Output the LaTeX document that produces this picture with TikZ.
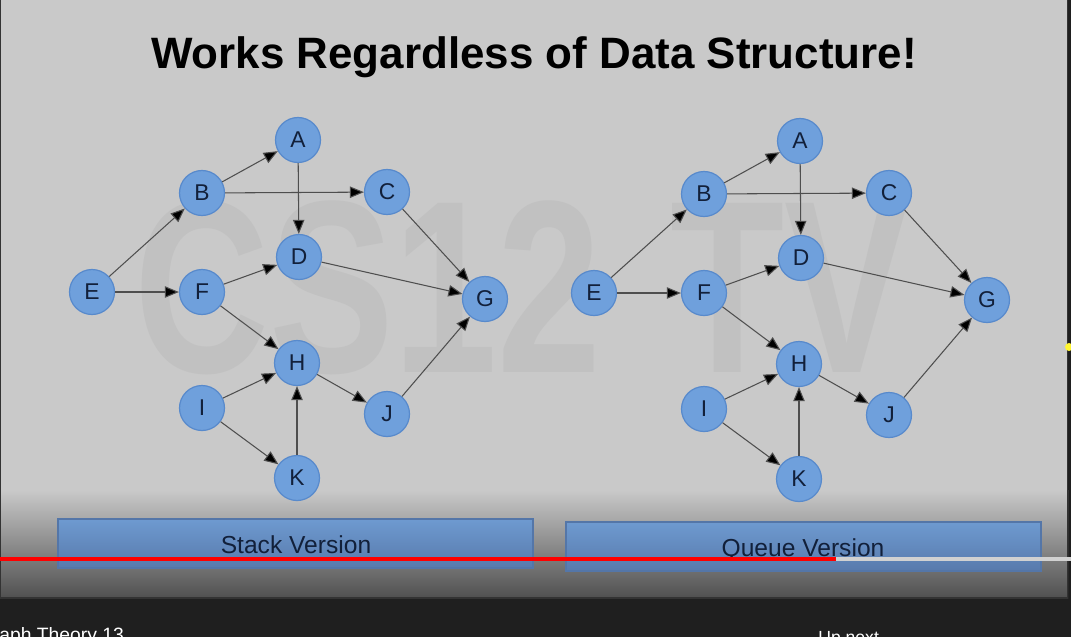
\documentclass[tikz,border=0pt]{standalone}
\usepackage{fontspec}
\setmainfont{Liberation Sans}
\usepackage{tikz}
\usetikzlibrary{arrows.meta,positioning}

\definecolor{slidegray}{RGB}{201,201,201}
\definecolor{markgray}{RGB}{193,193,193}
\definecolor{vfill}{RGB}{111,160,220}
\definecolor{vline}{RGB}{88,138,204}
\definecolor{vtext}{RGB}{18,32,58}
\definecolor{edgegray}{RGB}{78,78,78}
\definecolor{bartop}{RGB}{110,154,208}
\definecolor{barbot}{RGB}{88,122,172}
\definecolor{barline}{RGB}{84,118,168}
\definecolor{playerbg}{RGB}{31,31,31}

\tikzset{
  vertex/.style={circle,draw=vline,line width=0.7pt,fill=vfill,minimum size=0.9cm,inner sep=0pt,
    text=vtext,font=\fontsize{13}{13}\selectfont},
  edge/.style={draw=edgegray,line width=0.6pt,-{Triangle[length=8pt,width=6.5pt,fill=black]}},
  verbar/.style={draw=barline,line width=0.6pt,top color=bartop,bottom color=barbot},
  bartext/.style={text=vtext,font=\fontsize{14}{14}\selectfont,anchor=base},
  markstyle/.style={text=markgray,font=\bfseries\fontsize{140}{140}\selectfont,xscale=0.76,transform shape,anchor=base},
}

\begin{document}
\begin{tikzpicture}[x=0.02cm,y=-0.02cm]
\useasboundingbox (0,0) rectangle (1071,637);
\clip (0,0) rectangle (1071,637);
% slide and player
\fill[playerbg] (0,0) rectangle (1071,637);
\fill[slidegray] (0,0) rectangle (1068,598);
\shade[top color=slidegray,middle color={rgb,255:red,176;green,176;blue,176},bottom color={rgb,255:red,80;green,80;blue,80}]
  (0,490) rectangle (1068,598);
\draw[black!80,line width=1pt] (0.5,0) -- (0.5,598) -- (1067.5,598) -- (1067.5,0);
% watermark
\node[markstyle] (mark1) at (368,372) {CS12};
\node[markstyle] (mark2) at (790,372) {TV};
% title
\node[font=\bfseries\fontsize{25}{25}\selectfont,anchor=base] (title) at (534,68) {Works Regardless of Data Structure!};
% the two graphs
\foreach \g/\dx/\dy in {s/0/0, q/502/1} {
  \begin{scope}[shift={(\dx,\dy)}]
    \node[vertex] (\g A) at (298,140) {A};
    \node[vertex] (\g B) at (202,193) {B};
    \node[vertex] (\g C) at (387,192) {C};
    \node[vertex] (\g D) at (299,257) {D};
    \node[vertex] (\g E) at (92,292) {E};
    \node[vertex] (\g F) at (202,292) {F};
    \node[vertex] (\g G) at (485,299) {G};
    \node[vertex] (\g H) at (297,363) {H};
    \node[vertex] (\g I) at (202,408) {I};
    \node[vertex] (\g J) at (387,414) {J};
    \node[vertex] (\g K) at (297,478) {K};
  \end{scope}
  \foreach \u/\v in {E/B,E/F,B/A,B/C,A/D,F/D,F/H,D/G,C/G,H/J,J/G,I/H,I/K,K/H}
    \draw[edge] (\g\u) -- (\g\v);
}
% version bars
\draw[verbar] (58,519) rectangle (533,568);
\node[bartext] (stack) at (296,553) {Stack Version};
\draw[verbar] (566,522) rectangle (1041,571);
\node[bartext] (queue) at (803,556) {Queue Version};
% progress bar
\fill[red] (0,557) rectangle (836,560.5);
\fill[black!18] (836,557) rectangle (1071,560.5);
\fill[yellow!80!white] (1069,347) circle (4);
% player captions
\node[text=white,font=\fontsize{11}{11}\selectfont,anchor=base west,inner sep=0pt] (vtitle) at (-1,641) {aph Theory 13};
\node[text=white,font=\fontsize{10}{10}\selectfont,anchor=base west,inner sep=0pt] (upnext) at (818,643) {Up next};
\end{tikzpicture}
\end{document}
